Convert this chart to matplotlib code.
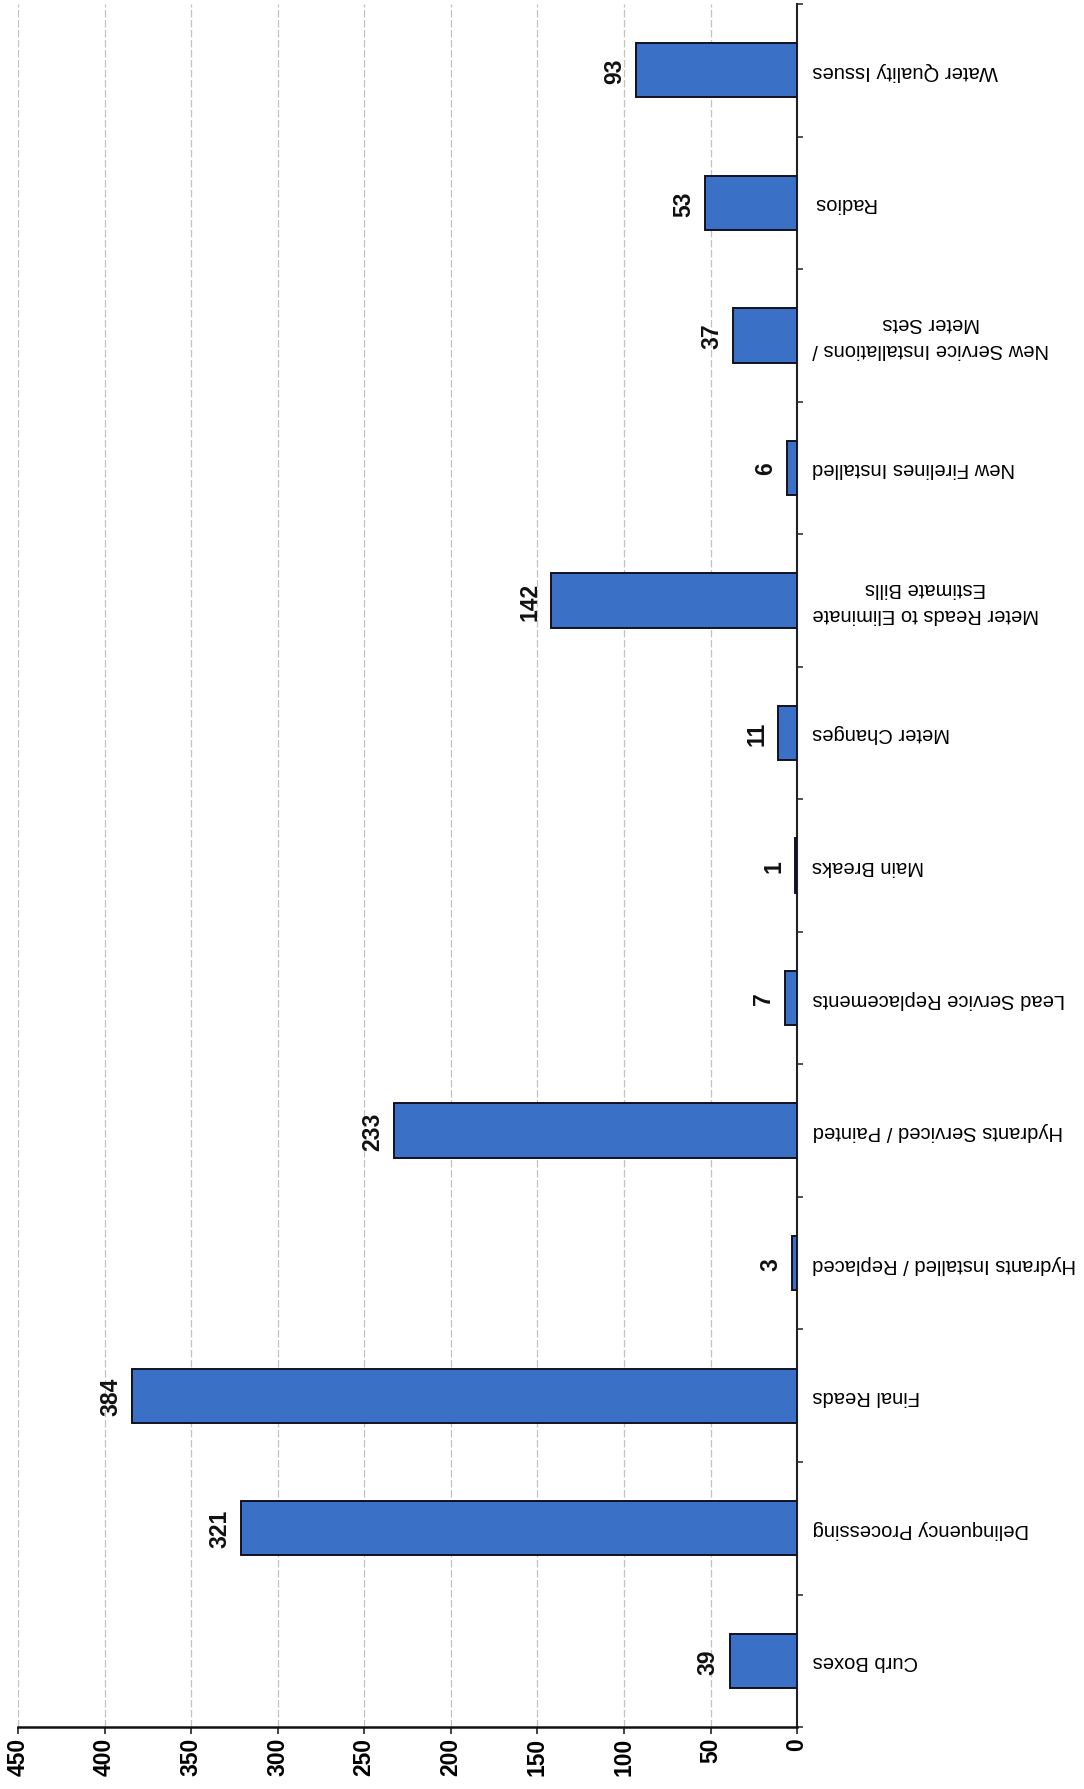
import matplotlib
matplotlib.use("Agg")
import matplotlib.pyplot as plt
import numpy as np

plt.rcParams['font.family'] = ['Liberation Sans', 'DejaVu Sans']

# work categories and yearly counts
categories = [
    'Curb Boxes',
    'Delinquency Processing',
    'Final Reads',
    'Hydrants Installed / Replaced',
    'Hydrants Serviced / Painted',
    'Lead Service Replacements',
    'Main Breaks',
    'Meter Changes',
    'Meter Reads to Eliminate\nEstimate Bills',
    'New Firelines Installed',
    'New Service Installations /\nMeter Sets',
    'Radios',
    'Water Quality Issues',
]
counts = [39, 321, 384, 3, 233, 7, 1, 11, 142, 6, 37, 53, 93]
value_ticks = [0, 50, 100, 150, 200, 250, 300, 350, 400, 450]

fig = plt.figure(figsize=(10.84, 17.9), dpi=100)
ax = fig.add_axes([0.0166, 0.0346, 0.7187, 0.9626])

pos = np.arange(len(categories))
bars = ax.barh(pos, counts, height=0.41, color='#3a70c6',
               edgecolor='#111122', linewidth=1.4, zorder=3)

# value axis runs right-to-left, categories read on the right side
ax.set_xlim(450, 0)
ax.set_ylim(-0.5, len(categories) - 0.5)

ax.set_xticks(value_ticks)
ax.set_xticklabels([str(v) for v in value_ticks], rotation=90,
                   fontsize=16.5, fontweight='bold')
ax.tick_params(axis='x', direction='out', length=5, width=1.2, pad=2,
               color='#222222')

ax.yaxis.set_ticks_position('right')
ax.set_yticks(np.arange(len(categories) + 1) - 0.5)
ax.set_yticklabels([])
ax.set_yticks(pos, minor=True)
ax.set_yticklabels(categories, minor=True, rotation=180, fontsize=14.5,
                   ha='left', va='center', multialignment='center',
                   linespacing=1.5)
ax.tick_params(axis='y', which='major', direction='out', length=4,
               width=1.2, color='#333333')
ax.tick_params(axis='y', which='minor', length=0, pad=11)

ax.grid(axis='x', color='#c2c2c2', linestyle=(0, (6, 2)), linewidth=0.9)
ax.set_axisbelow(True)

for side in ['top', 'left']:
    ax.spines[side].set_visible(False)
ax.spines['right'].set_linewidth(1.5)
ax.spines['right'].set_color('#222222')
ax.spines['bottom'].set_linewidth(1.8)
ax.spines['bottom'].set_color('#111111')

ax.bar_label(bars, labels=[str(c) for c in counts], padding=7,
             rotation=90, fontsize=16.5, fontweight='bold', color='#111111')

fig.savefig('out.png', dpi=100)
